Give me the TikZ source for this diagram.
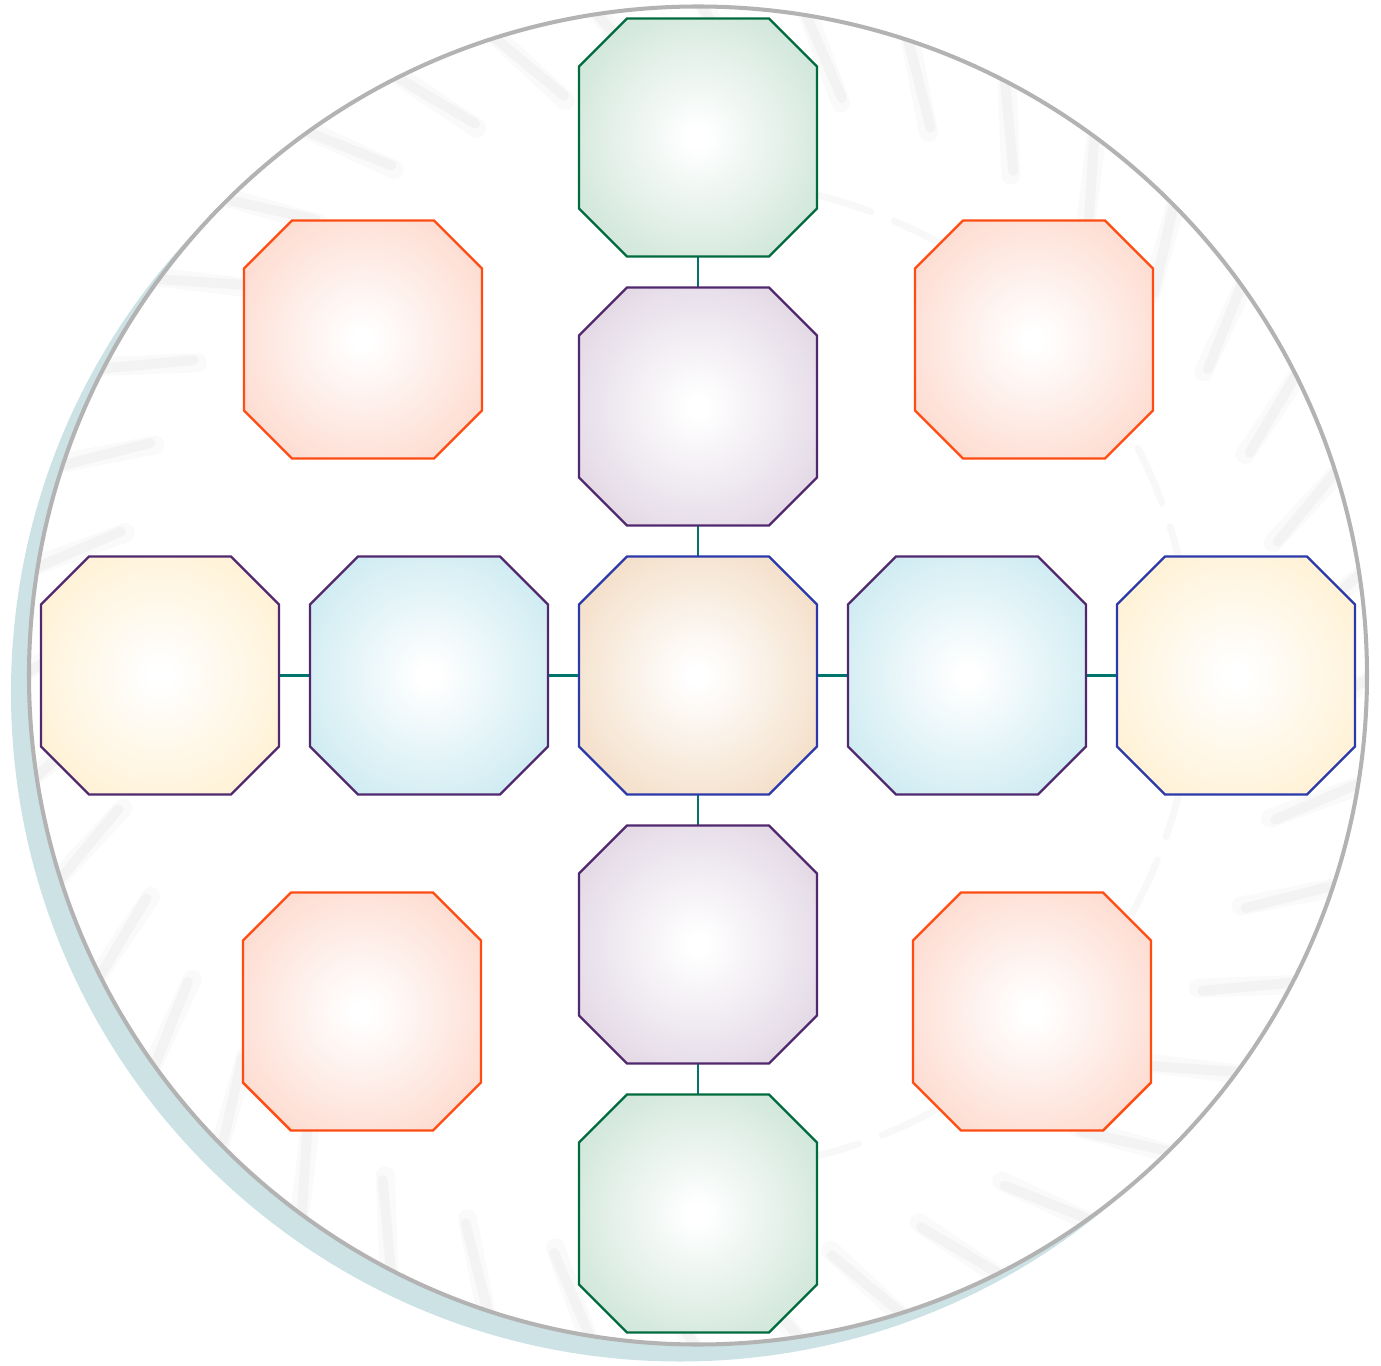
\documentclass[tikz,border=0pt]{standalone}
\usepackage{tikz}
\usetikzlibrary{positioning}
\definecolor{Verde}{HTML}{006B3E}
\definecolor{VerdeF}{HTML}{C9E2D4}
\definecolor{Morado}{HTML}{51286E}
\definecolor{MoradoF}{HTML}{DED2E1}
\definecolor{Azul}{HTML}{2B39AA}
\definecolor{Arena}{HTML}{F2DAC0}
\definecolor{Cielo}{HTML}{C6E8F0}
\definecolor{Crema}{HTML}{FFEFCE}
\definecolor{Naranja}{HTML}{FF4C12}
\definecolor{NaranjaF}{HTML}{FDD6C9}
\definecolor{Enlace}{HTML}{00756E}
\definecolor{Aro}{HTML}{B3B3B3}
\definecolor{Sombra}{HTML}{CCE2E5}
\colorlet{octrim}{white}
\pgfdeclareradialshading[octrim]{octglow}{\pgfpointorigin}{color(0bp)=(white); color(2bp)=(white); color(34bp)=(octrim); color(50bp)=(octrim)}
% octagono sobre un nodo ya puesto: nodo, borde, relleno
\newcommand{\octagono}[3]{%
  \draw[line width=1.4pt,draw=#2,shade,shading=octglow,glow=#3]
    ([xshift=0.96cm]#1.north west) -- ([xshift=-0.96cm]#1.north east) -- ([yshift=-0.96cm]#1.north east)
    -- ([yshift=0.96cm]#1.south east) -- ([xshift=-0.96cm]#1.south east) -- ([xshift=0.96cm]#1.south west)
    -- ([yshift=0.96cm]#1.south west) -- ([yshift=-0.96cm]#1.north west) -- cycle;}

\begin{document}
\begin{tikzpicture}[node distance=0.62cm,
        octo/.style={rectangle,minimum width=4.76cm,minimum height=4.76cm,inner sep=0pt,outer sep=0pt},
        glow/.code={\colorlet{octrim}{#1}},
        enlace/.style={line width=1.4pt,draw=Enlace},
        trazo/.style={draw=gray,line cap=round}]
        \useasboundingbox (-13.96,-13.79) rectangle (13.66,13.51);
        % disco de fondo
        \fill[Sombra] (-0.36,-0.34) circle (13.38);
        \fill[white] (0,0) circle (13.38);
        \begin{scope}
          \clip (0,0) circle (13.38);
          \foreach \a in {0,9,...,351} {
            \draw[trazo,line width=0.38cm,opacity=0.035] (\a:13.6) -- (\a-5:11.8);
            \draw[trazo,line width=0.2cm,opacity=0.05] (\a:13.5) -- (\a-5:11.9);
          }
          \draw[trazo,line width=0.14cm,opacity=0.05,dash pattern=on 1.2cm off 0.5cm] (-78:9.9) arc (-78:78:9.9);
        \end{scope}
        \draw[Aro,line width=2.3pt] (0,0) circle (13.38);
        % nodos
        \node[octo] (cen) {};
        \node[octo,above=of cen] (upp) {};
        \node[octo,above=of upp] (top) {};
        \node[octo,below=of cen] (low) {};
        \node[octo,below=of low] (bot) {};
        \node[octo,left=of cen] (lft) {};
        \node[octo,left=of lft] (flt) {};
        \node[octo,right=of cen] (rgt) {};
        \node[octo,right=of rgt] (frt) {};
        \node[octo] at (-6.7,6.72) (nw) {};
        \node[octo] at (6.72,6.72) (ne) {};
        \node[octo] at (-6.72,-6.72) (sw) {};
        \node[octo] at (6.68,-6.72) (se) {};
        % enlaces
        \draw[enlace] (cen) -- (upp);
        \draw[enlace] (upp) -- (top);
        \draw[enlace] (cen) -- (low);
        \draw[enlace] (low) -- (bot);
        \draw[enlace] (cen) -- (lft);
        \draw[enlace] (lft) -- (flt);
        \draw[enlace] (cen) -- (rgt);
        \draw[enlace] (rgt) -- (frt);
        % octagonos
        \octagono{cen}{Azul}{Arena}
        \octagono{upp}{Morado}{MoradoF}
        \octagono{low}{Morado}{MoradoF}
        \octagono{top}{Verde}{VerdeF}
        \octagono{bot}{Verde}{VerdeF}
        \octagono{lft}{Morado}{Cielo}
        \octagono{rgt}{Morado}{Cielo}
        \octagono{flt}{Morado}{Crema}
        \octagono{frt}{Azul}{Crema}
        \octagono{nw}{Naranja}{NaranjaF}
        \octagono{ne}{Naranja}{NaranjaF}
        \octagono{sw}{Naranja}{NaranjaF}
        \octagono{se}{Naranja}{NaranjaF}
      \end{tikzpicture}
\end{document}
